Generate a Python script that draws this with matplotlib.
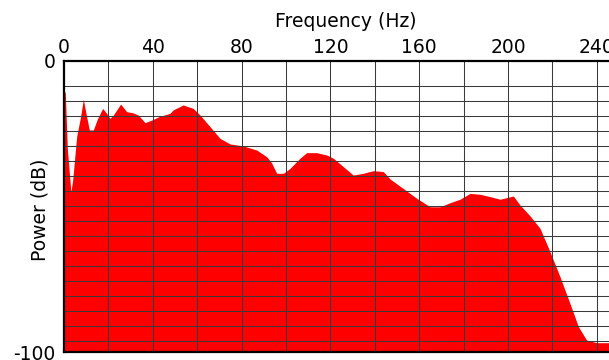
import numpy as np
import matplotlib
matplotlib.use("Agg")
import matplotlib.pyplot as plt

plt.rcParams["font.family"] = ["DejaVu Sans"]
plt.rcParams["axes.unicode_minus"] = False

# Power spectrum envelope (frequency in Hz, power in dB)
freq = [0, 0.6, 1.5, 3.1, 3.9, 5.7, 7.5, 8.7, 9.9, 11.4, 13.2, 15.0, 17.4,
        19.2, 20.7, 22.2, 25.5, 28.2, 31.0, 33.5, 36.5, 39.5, 43.2, 47.7,
        49.2, 53.7, 58.2, 61.3, 65.8, 70.3, 74.8, 80.8, 86.8, 91.3, 93.5,
        95.8, 98.8, 101.8, 106.3, 109.3, 113.8, 118.3, 121.3, 125.8, 130.3,
        134.8, 139.3, 143.8, 146.8, 150.6, 152.8, 158.9, 164.9, 169.4, 173.9,
        178.4, 182.9, 187.4, 191.9, 196.4, 202.4, 205.4, 209.9, 214.4, 218.9,
        223.4, 227.9, 231.7, 235.4, 239.9, 250]
power = [-10, -11, -30, -45, -41, -26, -19, -13.2, -18, -23.7, -23.7, -20,
         -16.3, -18, -19.7, -18.6, -14.8, -17.4, -17.8, -18.6, -21.2, -20.3,
         -19.0, -18.0, -16.8, -15.1, -16.3, -18.6, -22.6, -26.6, -28.5, -29.2,
         -30.6, -32.9, -35.0, -38.6, -38.6, -36.9, -33.4, -31.5, -31.5, -32.3,
         -33.4, -36.3, -39.2, -38.6, -37.7, -38.0, -40.5, -42.6, -43.8, -47.2,
         -50.1, -50.1, -48.7, -47.5, -45.5, -45.8, -46.6, -47.5, -46.4, -49.5,
         -53.2, -57.5, -65.5, -74.1, -83.3, -91.3, -95.9, -96.8, -96.8]

x_ticks = [0, 40, 80, 120, 160, 200, 240]
y_ticks = [0, -100]

fig = plt.figure(figsize=(6.09, 3.6), dpi=100)
ax = fig.add_axes([64 / 609, 8 / 360, 555 / 609, 291 / 360])

ax.fill_between(freq, power, -100, color="#ff0000", linewidth=0, zorder=1)

ax.set_xlim(0, 250)
ax.set_ylim(-100, 0)

# grid: every 20 Hz vertically, evenly spaced horizontal rules
for gx in np.arange(20, 250, 20):
    ax.axvline(gx, color="#3a3a3a", linewidth=0.75, zorder=2)
for gy in -(25 + 15 * np.arange(18)) / 2.91:
    ax.axhline(gy, color="#3a3a3a", linewidth=0.75, zorder=2)

ax.xaxis.tick_top()
ax.xaxis.set_label_position("top")
ax.set_xticks(x_ticks)
ax.set_yticks(y_ticks)
ax.tick_params(axis="x", length=0, labelsize=13.5, pad=3)
ax.tick_params(axis="y", length=0, labelsize=13.5, pad=6)
ax.set_xlabel("Frequency (Hz)", fontsize=13.5)
ax.set_ylabel("Power (dB)", fontsize=13.5)
ax.xaxis.set_label_coords(0.507, 1.117)
ax.yaxis.set_label_coords(-0.027, 0.49)

ax.spines["right"].set_visible(False)
for side in ("top", "left", "bottom"):
    ax.spines[side].set_color("black")
    ax.spines[side].set_linewidth(1.6)
    ax.spines[side].set_zorder(3)

fig.savefig("out.png", dpi=100)
